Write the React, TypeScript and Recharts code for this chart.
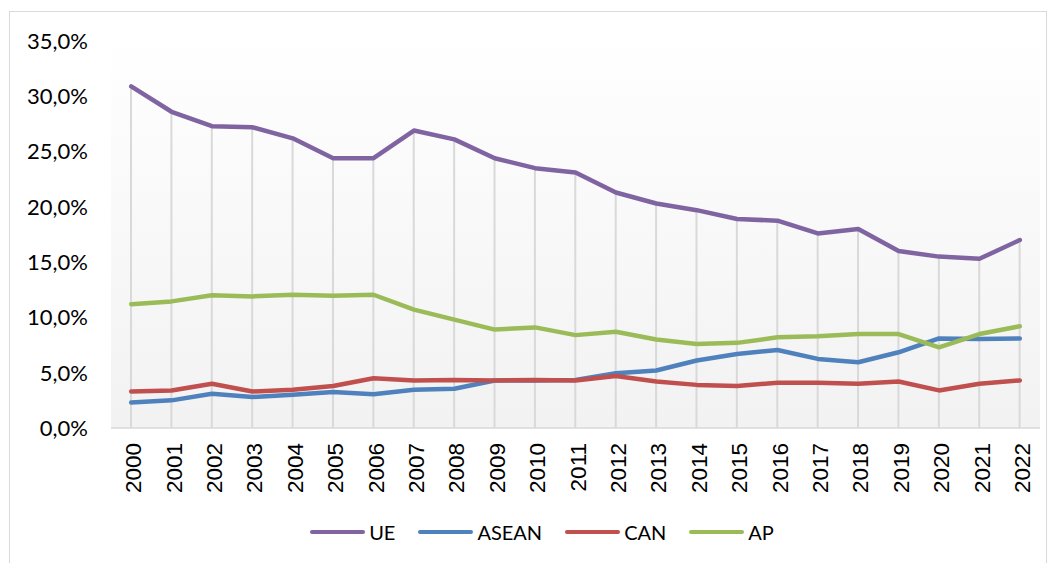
import React from 'react';
import { ComposedChart, Line, Bar, XAxis, YAxis, CartesianGrid, Legend } from 'recharts';

const years = ['2000','2001','2002','2003','2004','2005','2006','2007','2008','2009','2010','2011','2012','2013','2014','2015','2016','2017','2018','2019','2020','2021','2022'];
const ue = [30.9, 28.6, 27.3, 27.2, 26.2, 24.4, 24.4, 26.9, 26.1, 24.4, 23.5, 23.1, 21.3, 20.3, 19.7, 18.9, 18.75, 17.6, 18.0, 16.0, 15.5, 15.3, 17.0];
const asean = [2.3, 2.5, 3.1, 2.8, 3.0, 3.25, 3.05, 3.45, 3.55, 4.3, 4.3, 4.35, 4.95, 5.2, 6.1, 6.7, 7.05, 6.25, 5.95, 6.85, 8.1, 8.05, 8.1];
const can = [3.3, 3.4, 4.0, 3.3, 3.45, 3.8, 4.5, 4.3, 4.35, 4.3, 4.35, 4.3, 4.7, 4.2, 3.9, 3.8, 4.1, 4.1, 4.0, 4.2, 3.4, 4.0, 4.3];
const ap = [11.2, 11.45, 12.0, 11.9, 12.05, 11.95, 12.05, 10.7, 9.8, 8.9, 9.1, 8.4, 8.7, 8.0, 7.6, 7.7, 8.2, 8.3, 8.5, 8.5, 7.3, 8.5, 9.2];
const yTicks = [0, 5, 10, 15, 20, 25, 30, 35];

const seriesNames = ['UE', 'ASEAN', 'CAN', 'AP'];
const seriesColors = ['#8064A2', '#4F81BD', '#C0504D', '#9BBB59'];

const data = years.map((y, i) => ({ year: y, UE: ue[i], ASEAN: asean[i], CAN: can[i], AP: ap[i] }));

const fmt = (v: number) => `${v.toFixed(1).replace('.', ',')}%`;

const XTick = (props: any) => {
  const { x, y, payload } = props;
  return (
    <text
      x={x + 2}
      y={y}
      transform={`rotate(-90, ${x + 2}, ${y})`}
      textAnchor="end"
      dy="0.36em"
      fontFamily="'Liberation Sans', Arial, sans-serif"
      fontSize={22.5}
      fill="#000"
    >
      {payload.value}
    </text>
  );
};

const renderLegend = () => (
  <div style={{ display: 'flex', justifyContent: 'center', alignItems: 'center', fontFamily: 'Lato, sans-serif', fontSize: 20, color: '#000', paddingLeft: 28 }}>
    {seriesNames.map((n, i) => (
      <div key={n} style={{ display: 'flex', alignItems: 'center', marginRight: i < seriesNames.length - 1 ? 23 : 0 }}>
        <div style={{ width: 55, height: 4.5, borderRadius: 3, background: seriesColors[i], marginRight: 4 }} />
        <span>{n}</span>
      </div>
    ))}
  </div>
);

export default function App() {
  return (
    <div style={{ position: 'absolute', left: 0, top: 0, width: 1056, height: 563, overflow: 'hidden', background: '#fff' }}>
      <div style={{ position: 'absolute', left: 9, top: 11, width: 1038, height: 570, border: '1px solid #d9d9d9', boxSizing: 'border-box' }} />
      <div style={{ position: 'absolute', left: 0, top: 0 }}>
        <ComposedChart width={1056} height={563} data={data} margin={{ top: 41, right: 16, bottom: 55, left: 11 }}>
          <defs>
            <linearGradient id="plotBg" x1="0" y1="0" x2="0" y2="1">
              <stop offset="0" stopColor="#ffffff" />
              <stop offset="0.127" stopColor="#fdfdfd" />
              <stop offset="1" stopColor="#f2f2f2" />
            </linearGradient>
          </defs>
          <CartesianGrid horizontal={false} vertical={false} fill="url(#plotBg)" />
          <XAxis
            dataKey="year"
            interval={0}
            height={80}
            tickLine={false}
            tickMargin={9}
            axisLine={{ stroke: '#d9d9d9', strokeWidth: 1.5 }}
            tick={<XTick />}
          />
          <YAxis
            width={100}
            domain={[0, 35]}
            ticks={yTicks}
            tickFormatter={fmt}
            axisLine={false}
            tickLine={false}
            tickMargin={17}
            tick={{ fontFamily: 'Lato, sans-serif', fontSize: 22, fill: '#000' }}
          />
          <Bar dataKey="UE" fill="#d9d9d9" barSize={2} isAnimationActive={false} legendType="none" />
          {seriesNames.map((n, i) => (
            <Line
              key={n}
              type="linear"
              dataKey={n}
              stroke={seriesColors[i]}
              strokeWidth={4.5}
              strokeLinecap="round"
              strokeLinejoin="round"
              dot={false}
              activeDot={false}
              isAnimationActive={false}
            />
          ))}
          <Legend
            layout="horizontal"
            verticalAlign="middle"
            align="center"
            content={renderLegend}
            wrapperStyle={{ position: 'absolute', top: 520, left: 0, width: 1056 }}
          />
        </ComposedChart>
      </div>
    </div>
  );
}
